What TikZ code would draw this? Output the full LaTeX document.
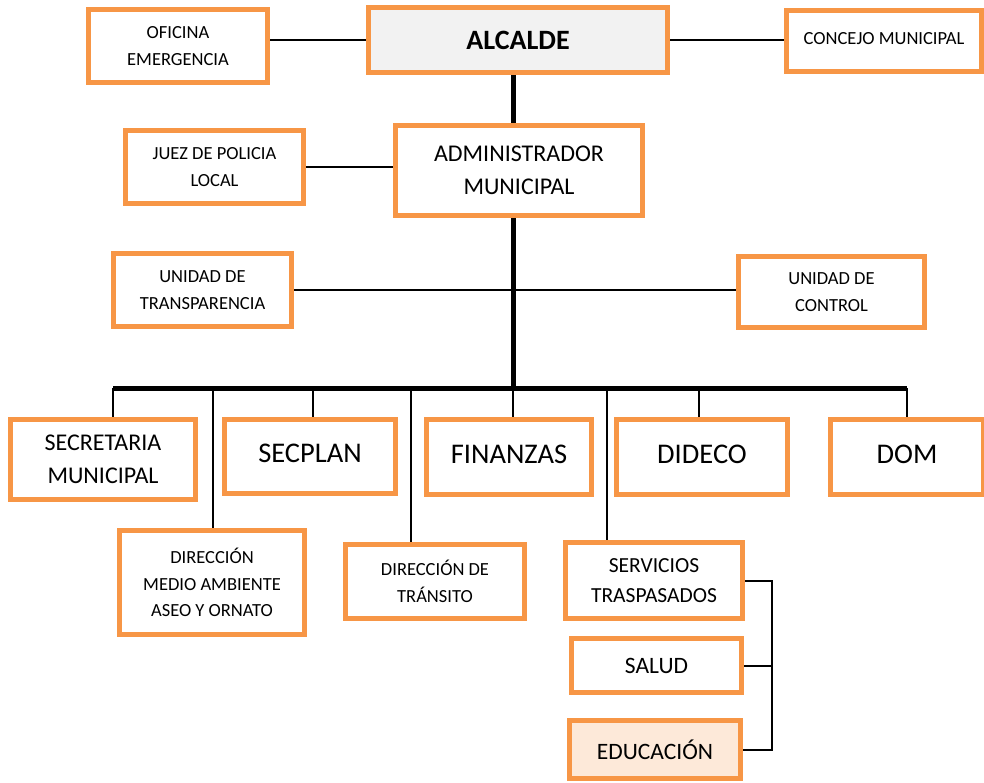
\documentclass[tikz,border=0pt]{standalone}
\usepackage{fontspec}
\setmainfont{Carlito}
\usepackage{tikz}
\usetikzlibrary{positioning}
\definecolor{naranja}{HTML}{F79646}
\definecolor{grisclaro}{HTML}{F2F2F2}
\definecolor{rosado}{HTML}{FDE9D9}
\tikzset{
	caja/.style={draw=naranja, line width=5pt, fill=white, inner sep=0pt, align=center},
	chica/.style={font=\fontsize{18.5}{26.5}\selectfont},
	media/.style={font=\fontsize{24}{33}\selectfont},
	grande/.style={font=\fontsize{28.5}{34}\selectfont},
	linea/.style={draw, line width=2pt},
	tronco/.style={draw, line width=5pt}
}

\begin{document}
\begin{tikzpicture}[x=1pt,y=-1pt]
\useasboundingbox (0,0) rectangle (984,782);
\node (ofi) [caja,chica,minimum width=179pt,minimum height=73pt] at (178,46) {OFICINA\\EMERGENCIA};
\node (alc) [caja,fill=grisclaro,minimum width=299pt,minimum height=65pt,font=\fontsize{28}{34}\selectfont\bfseries] at (518,40) {ALCALDE};
\node (con) [caja,chica,minimum width=195pt,minimum height=61pt] at (884,41) {\raisebox{6pt}{CONCEJO MUNICIPAL}};
\node (adm) [caja,media,minimum width=247pt,minimum height=90pt] at (519,170.5) {ADMINISTRADOR\\MUNICIPAL};
\node (juez) [caja,chica,minimum width=178pt,minimum height=73pt] at (214.5,167) {JUEZ DE POLICIA\\LOCAL};
\node (utr) [caja,chica,minimum width=178pt,minimum height=73pt] at (202.5,290) {UNIDAD DE\\TRANSPARENCIA};
\node (uco) [caja,chica,minimum width=186pt,minimum height=71pt] at (831.5,292) {UNIDAD DE\\CONTROL};
\node (sec) [caja,media,minimum width=185pt,minimum height=80pt] at (103,459.5) {SECRETARIA\\MUNICIPAL};
\node (spl) [caja,grande,minimum width=171pt,minimum height=74pt] at (310,456.5) {\raisebox{6pt}{SECPLAN}};
\node (fin) [caja,grande,minimum width=165pt,minimum height=75pt] at (509,457) {\raisebox{6pt}{FINANZAS}};
\node (did) [caja,grande,minimum width=171pt,minimum height=75pt] at (702,457) {\raisebox{6pt}{DIDECO}};
\node (dom) [caja,grande,minimum width=153pt,minimum height=75pt] at (907,457) {\raisebox{6pt}{DOM}};
\node (dma) [caja,chica,minimum width=185pt,minimum height=104pt] at (212,582.5) {DIRECCIÓN\\MEDIO AMBIENTE\\ASEO Y ORNATO};
\node (dtr) [caja,chica,minimum width=179pt,minimum height=74pt] at (435,581.5) {DIRECCIÓN DE\\TRÁNSITO};
\node (ser) [caja,font=\fontsize{21.5}{30}\selectfont,minimum width=177pt,minimum height=76pt] at (654,580.5) {SERVICIOS\\TRASPASADOS};
\node (sal) [caja,font=\fontsize{23.5}{30}\selectfont,minimum width=170pt,minimum height=54pt] at (656.5,665.5) {SALUD};
\node (edu) [caja,fill=rosado,font=\fontsize{23.5}{30}\selectfont,minimum width=171pt,minimum height=58pt] at (655,749.5) {EDUCACIÓN};
% tronco central y barra
\coordinate (eje) at (513,388);
\coordinate (b1) at (113,388); \coordinate (b2) at (213,388);
\coordinate (b3) at (313,388); \coordinate (b4) at (411,388);
\coordinate (b5) at (607,388); \coordinate (b6) at (699,388);
\coordinate (b7) at (907,388);
\draw[tronco] (eje |- alc.south) -- (eje |- adm.north);
\draw[tronco] (eje |- adm.south) -- (eje);
\draw[tronco] (b1) -- (b7);
% lineas laterales
\draw[linea] (ofi.east |- alc.west) -- (alc.west); \draw[linea] (alc.east) -- (alc.east -| con.west);
\draw[linea] (juez.east) -- (juez.east -| adm.west);
\draw[linea] (utr.east) -- (utr.east -| uco.west);
% bajadas a las direcciones
\draw[linea] (b1) -- (b1 |- sec.north); \draw[linea] (b2) -- (b2 |- dma.north);
\draw[linea] (b3) -- (b3 |- spl.north); \draw[linea] (b4) -- (b4 |- dtr.north);
\draw[linea] (eje) -- (eje |- fin.north); \draw[linea] (b5) -- (b5 |- ser.north);
\draw[linea] (b6) -- (b6 |- did.north); \draw[linea] (b7) -- (b7 |- dom.north);
% servicios traspasados
\coordinate (llave) at (772,580);
\draw[linea] (ser.east) -- (ser.east -| llave) -- (llave |- edu.east) -- (edu.east);
\draw[linea] (sal.east) -- (sal.east -| llave);
\end{tikzpicture}
\end{document}
